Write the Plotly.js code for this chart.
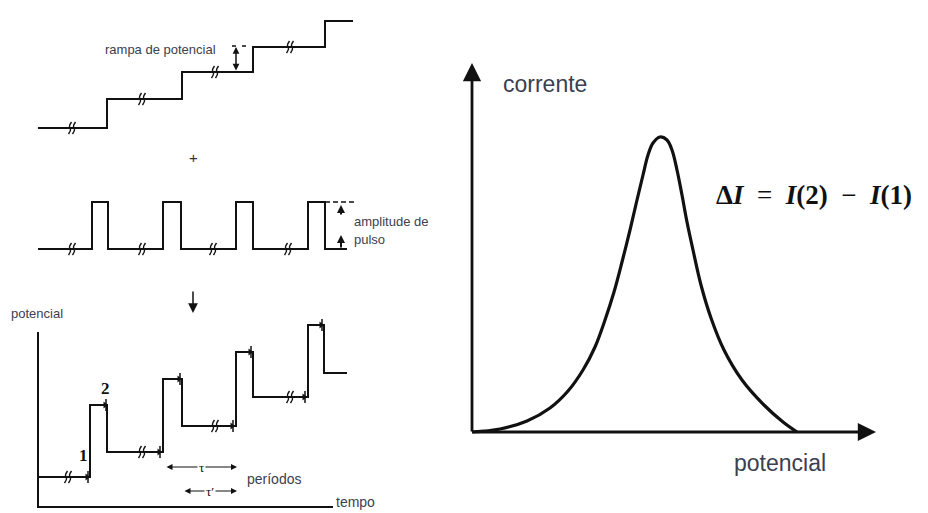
<!DOCTYPE html>
<html>
<head>
<meta charset="utf-8">
<script src="https://cdn.plot.ly/plotly-3.0.1.min.js"></script>
<style>html,body{margin:0;padding:0;background:#fff;}#chart{width:928px;height:513px;}</style>
</head>
<body>
<div id="chart"></div>
<script>
// ---- data (diagram units) ----
// staircase ramp (step shape hv)
const rampX = [38, 107, 182, 253, 325, 353];
const rampY = [128, 99, 72, 47, 21, 21];
const rampBreaksX = [72, 142, 215, 290];
const rampBreaksY = [128, 99, 72, 47];

// pulse train
const pulseX = [38, 92, 108, 163, 181, 236, 253, 308, 325, 347];
const pulseY = [249, 202, 249, 202, 249, 202, 249, 202, 249, 249];
const pulseBreaksX = [72, 142, 213, 288];
const pulseBreaksY = [249, 249, 249, 249];

// combined waveform
const combX = [38, 90, 107, 163, 182, 236, 253, 308, 324, 347];
const combY = [477, 405, 452, 379, 426, 352, 397, 325, 373, 373];
const combBreaksX = [68, 142, 215, 290];
const combBreaksY = [477, 452, 426, 397];
const sampleX = [88, 106, 160, 180, 233, 251, 305, 322];
const sampleY = [477, 405, 452, 379, 426, 352, 397, 325];

// differential pulse voltammogram peak
const peakX = [472, 500, 527, 550, 568, 583, 595, 605, 614, 622, 630, 637, 643, 648, 653, 660, 667, 672, 677, 682, 687, 693, 701, 711, 724, 742, 764, 783, 797];
const peakY = [432, 429, 421, 408, 391, 370, 347, 320, 292, 262, 230, 200, 175, 155, 143, 137, 140, 150, 170, 195, 222, 250, 285, 318, 350, 380, 405, 422, 432];

// axes of the left plot
const leftAxisX = [38, 38, 333];
const leftAxisY = [332, 507, 507];

// ---- helpers ----
function breakMarks(xs, ys) {
  const X = [], Y = [];
  xs.forEach((x, i) => {
    const y = ys[i];
    [-2, 2].forEach(d => {
      X.push(x + d + 1.5, x + d - 0.5, x + d + 0.5, x + d - 1.5, null);
      Y.push(y - 6, y - 2, y + 2, y + 6, null);
    });
  });
  return {X, Y};
}
function ticks(xs, ys) {
  const X = [], Y = [];
  xs.forEach((x, i) => { X.push(x, x, null); Y.push(ys[i] - 6, ys[i] + 6, null); });
  return {X, Y};
}

const black = '#111';
const lw = 2;
const b1 = breakMarks(rampBreaksX, rampBreaksY);
const b2 = breakMarks(pulseBreaksX, pulseBreaksY);
const b3 = breakMarks(combBreaksX, combBreaksY);
const tk = ticks(sampleX, sampleY);

const traces = [
  {x: rampX, y: rampY, mode: 'lines', line: {color: black, width: lw, shape: 'hv'}},
  {x: pulseX, y: pulseY, mode: 'lines', line: {color: black, width: lw, shape: 'hv'}},
  {x: combX, y: combY, mode: 'lines', line: {color: black, width: lw, shape: 'hv'}},
  {x: b1.X.concat(b2.X, b3.X), y: b1.Y.concat(b2.Y, b3.Y), mode: 'lines', line: {color: black, width: 1.4, shape: 'spline'}},
  {x: tk.X, y: tk.Y, mode: 'lines', line: {color: black, width: 1.5}},
  {x: sampleX.map(v => v - 1), y: sampleY, mode: 'markers', marker: {symbol: 'triangle-right', size: 6, color: black}},
  {x: leftAxisX, y: leftAxisY, mode: 'lines', line: {color: black, width: 2}},
  {x: peakX, y: peakY, mode: 'lines', line: {color: black, width: 3.2, shape: 'spline', smoothing: 1}},
  // dashed reference marks
  {x: [232, 252], y: [46, 46], mode: 'lines', line: {color: black, width: 1.3, dash: '4px,6px'}},
  {x: [325, 356], y: [202, 202], mode: 'lines', line: {color: black, width: 1.3, dash: '5px,3px'}}
];

const txtColor = '#3b4050';
const sans = 'Liberation Sans, Arial, sans-serif';
const serif = 'Liberation Serif, Times New Roman, serif';
function label(text, x, y, size, opts) {
  return Object.assign({text: text, x: x, y: y, xref: 'x', yref: 'y', showarrow: false,
    xanchor: 'left', yanchor: 'middle', font: {family: sans, size: size, color: txtColor}}, opts || {});
}
function arrow(x, y, ax, ay, opts) {
  return Object.assign({text: '', x: x, y: y, ax: ax, ay: ay, xref: 'x', yref: 'y', axref: 'x', ayref: 'y',
    showarrow: true, arrowhead: 2, arrowsize: 1, arrowwidth: 1.5, arrowcolor: black, standoff: 0}, opts || {});
}
const sp = '\u00a0';

const annotations = [
  label('rampa de potencial', 103, 49, 13),
  label('+', 193, 157, 15, {xanchor: 'center', font: {family: sans, size: 15, color: '#333'}}),
  label('amplitude de', 352, 221, 13),
  label('pulso', 352, 239, 13),
  label('potencial', 9, 313, 13),
  label('<b>1</b>', 83, 455, 17, {xanchor: 'center', font: {family: serif, size: 17, color: black}}),
  label('<b>2</b>', 105, 388, 17, {xanchor: 'center', font: {family: serif, size: 17, color: black}}),
  label('períodos', 245, 479, 14),
  label('tempo', 334, 502, 14),
  label('corrente', 501, 84, 23),
  label('potencial', 732, 463, 23),
  label('<b>Δ<i>I</i></b>' + sp + sp + '=' + sp + sp + '<b><i>I</i>(2)</b>' + sp + sp + '−' + sp + sp + '<b><i>I</i>(1)</b>', 714, 195, 27,
        {font: {family: serif, size: 27, color: black}}),
  // arrows
  arrow(472, 63, 472, 433, {arrowwidth: 2.8, arrowsize: 1.3}),
  arrow(876, 432, 471, 432, {arrowwidth: 2.8, arrowsize: 1.3}),
  arrow(193, 313, 193, 290, {arrowwidth: 1.5, arrowsize: 1.3}),
  arrow(236, 47, 236, 72, {arrowside: 'end+start', arrowwidth: 1.5, arrowsize: 0.9}),
  arrow(341, 205, 341, 216, {arrowwidth: 2, arrowsize: 0.8}),
  arrow(341, 235, 341, 249, {arrowwidth: 2, arrowsize: 0.8}),
  arrow(237, 467, 165, 467, {arrowside: 'end+start', arrowwidth: 1.2, arrowsize: 1}),
  arrow(237, 491, 183, 491, {arrowside: 'end+start', arrowwidth: 1.2, arrowsize: 1}),
  label('τ', 201, 467, 13, {xanchor: 'center', bgcolor: '#fff', font: {family: serif, size: 13, color: black}}),
  label('τ\u2032', 210, 491, 13, {xanchor: 'center', bgcolor: '#fff', font: {family: serif, size: 13, color: black}})
];

const layout = {
  width: 928, height: 513,
  margin: {l: 0, r: 0, t: 0, b: 0},
  paper_bgcolor: '#fff', plot_bgcolor: '#fff',
  showlegend: false,
  xaxis: {range: [0, 928], visible: false, fixedrange: true},
  yaxis: {range: [513, 0], visible: false, fixedrange: true},
  annotations: annotations
};

Plotly.newPlot('chart', traces, layout, {displayModeBar: false, staticPlot: true});
</script>
</body>
</html>
